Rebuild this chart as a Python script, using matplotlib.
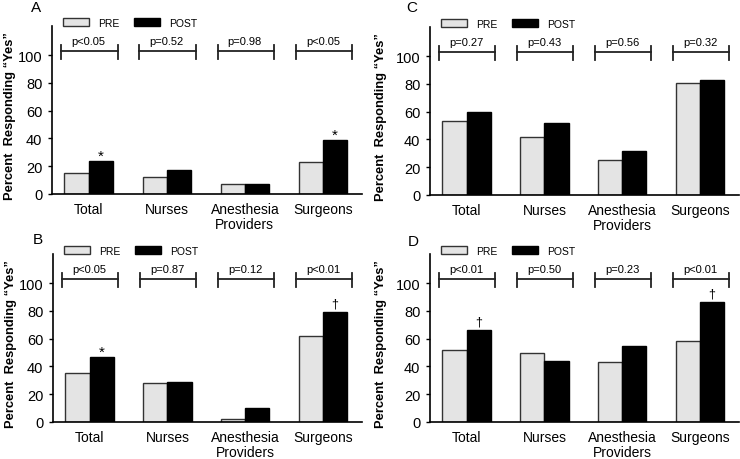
import matplotlib
matplotlib.use("Agg")
import matplotlib.pyplot as plt
import numpy as np
from matplotlib.patches import Patch

plt.rcParams['font.family'] = ['Liberation Sans', 'DejaVu Sans']
NARROW = ['Liberation Sans Narrow', 'Liberation Sans']

categories = ["Total", "Nurses", "Anesthesia\nProviders", "Surgeons"]

# panel data: PRE / POST percent responding "Yes"
pre_a = [15, 12, 7, 23]
post_a = [24, 17, 7, 39]
pvals_a = ["p<0.05", "p=0.52", "p=0.98", "p<0.05"]
marks_a = ["*", "", "", "*"]

pre_b = [35, 28, 2, 62]
post_b = [47, 29, 10, 79.5]
pvals_b = ["p<0.05", "p=0.87", "p=0.12", "p<0.01"]
marks_b = ["*", "", "", "\u2020"]

pre_c = [53, 41.5, 25, 81]
post_c = [60, 52, 32, 82.5]
pvals_c = ["p=0.27", "p=0.43", "p=0.56", "p=0.32"]
marks_c = ["", "", "", ""]

pre_d = [51.5, 49.5, 43, 58]
post_d = [66, 44, 55, 86.5]
pvals_d = ["p<0.01", "p=0.50", "p=0.23", "p<0.01"]
marks_d = ["\u2020", "", "", "\u2020"]

fig = plt.figure(figsize=(7.4, 4.6), dpi=100)

# (letter, pre, post, pvals, marks, axes rect, ylabel x offset, letter pos)
panels = [
    ("A", pre_a, post_a, pvals_a, marks_a, [52 / 740, 265 / 460, 310 / 740, 168 / 460], -0.115, (-0.052, 1.116)),
    ("C", pre_c, post_c, pvals_c, marks_c, [430 / 740, 264 / 460, 309 / 740, 168 / 460], -0.14, (-0.059, 1.12)),
    ("B", pre_b, post_b, pvals_b, marks_b, [53 / 740, 37 / 460, 309 / 740, 168 / 460], -0.115, (-0.05, 1.09)),
    ("D", pre_d, post_d, pvals_d, marks_d, [430 / 740, 37 / 460, 309 / 740, 168 / 460], -0.14, (-0.055, 1.08)),
]

w = 0.31
x = np.arange(len(categories))

for letter, pre, post, pvals, marks, rect, lab_x, let_pos in panels:
    ax = fig.add_axes(rect)
    ax.bar(x - w / 2, pre, w, color='#e4e4e4', edgecolor='#333333', linewidth=1.0)
    ax.bar(x + w / 2, post, w, color='black', edgecolor='black', linewidth=1.0)

    for i in range(len(categories)):
        # bracket with p-value
        xl, xr = x[i] - 0.35, x[i] + 0.37
        ax.plot([xl, xr], [103, 103], color='#222222', lw=1.3, clip_on=False)
        for xe in (xl, xr):
            ax.plot([xe, xe], [97, 107], color='#222222', lw=1.3, clip_on=False)
        ax.text(x[i], 106.5, pvals[i], ha='center', va='bottom', fontsize=8, clip_on=False)
        if marks[i] == "*":
            ax.text(x[i] + w / 2, post[i] + 0.8, marks[i], ha='center', va='baseline', fontsize=11)
        elif marks[i]:
            ax.text(x[i] + w / 2, post[i] + 4.0, marks[i], ha='center', va='baseline', fontsize=9)

    ax.set_xlim(-0.47, 3.5)
    ax.set_ylim(0, 121)
    ax.set_yticks(range(0, 101, 20))
    ax.tick_params(axis='y', length=3, width=1, pad=4)
    ax.tick_params(axis='x', length=0, pad=5.5)
    ax.set_xticks(x)
    ax.set_xticklabels(categories, linespacing=1.15, va='top', family=NARROW, fontsize=10)
    for lab in ax.get_yticklabels():
        lab.set_family(NARROW)
        lab.set_fontsize(10.5)
    for s in ('top', 'right'):
        ax.spines[s].set_visible(False)
    for s in ('left', 'bottom'):
        ax.spines[s].set_linewidth(1.2)
    ax.set_ylabel('Percent  Responding \u201cYes\u201d', fontsize=9.3, fontweight='bold')
    ax.yaxis.set_label_coords(lab_x, 0.47)

    handles = [Patch(facecolor='#e4e4e4', edgecolor='#333333', label='PRE'),
               Patch(facecolor='black', edgecolor='black', label='POST')]
    ax.legend(handles=handles, loc='center left', bbox_to_anchor=(0.036, 1.02), ncol=2,
              frameon=False, fontsize=7.5, handlelength=2.5, handleheight=0.85,
              columnspacing=1.35, handletextpad=0.87, borderaxespad=0, borderpad=0)
    ax.text(let_pos[0], let_pos[1], letter, transform=ax.transAxes, fontsize=11,
            ha='center', va='center')

fig.savefig('out.png', dpi=100)
